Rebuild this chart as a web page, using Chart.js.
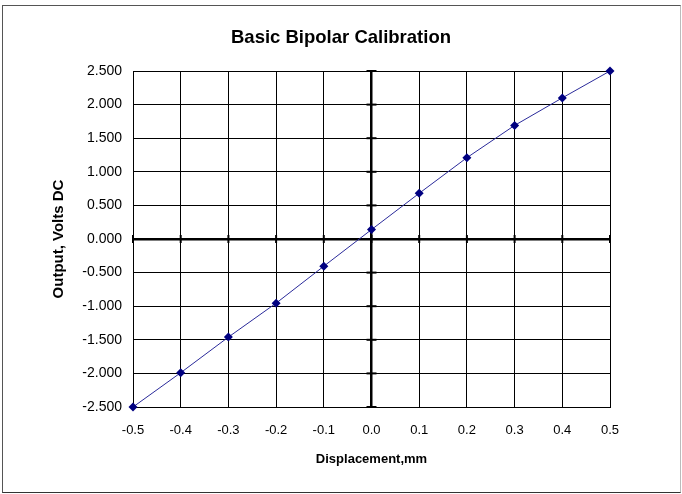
<!DOCTYPE html>
<html>
<head>
<meta charset="utf-8">
<script src="https://cdn.jsdelivr.net/npm/chart.js@4/dist/chart.umd.min.js"></script>
<style>
  body { margin: 0; background: #fff; }
  #wrap { position: relative; width: 682px; height: 494px; }
  #frame { position: absolute; left: 2px; top: 5px; width: 677px; height: 486px;
           border: 1px solid; border-color: #555 #bbb #333 #555; pointer-events: none; }
</style>
</head>
<body>
<div id="wrap">
  <canvas id="calChart" width="682" height="494"></canvas>
  <div id="frame"></div>
</div>
<script>
// DATA
const displacement = [-0.5, -0.4, -0.3, -0.2, -0.1, 0.0, 0.1, 0.2, 0.3, 0.4, 0.5];
const outputVolts = [-2.5, -1.99, -1.46, -0.955, -0.405, 0.14, 0.68, 1.21, 1.69, 2.10, 2.5];
const xRange = [-0.5, 0.5];
const yRange = [-2.5, 2.5];

const FONT = "'Liberation Sans', Arial, sans-serif";

// eixos no zero com marcas cruzadas
const zeroAxes = {
    id: "zeroAxes",
    beforeDatasetsDraw(chart) {
        const { ctx, scales: { x, y } } = chart;
        const x0 = x.getPixelForValue(0);
        const y0 = y.getPixelForValue(0);
        ctx.save();
        ctx.strokeStyle = "#000";
        ctx.lineWidth = 2;
        x.ticks.forEach(t => {
            const px = x.getPixelForValue(t.value);
            ctx.beginPath();
            ctx.moveTo(px, y0 - 4);
            ctx.lineTo(px, y0 + 4);
            ctx.stroke();
        });
        y.ticks.forEach(t => {
            const py = y.getPixelForValue(t.value);
            ctx.beginPath();
            ctx.moveTo(x0 - 5, py);
            ctx.lineTo(x0 + 5, py);
            ctx.stroke();
        });
        ctx.restore();
    }
};

const zeroWidth = c => (Math.abs(c.tick.value) < 1e-9 ? 2.5 : 1);

new Chart(document.getElementById("calChart"), {
    type: "scatter",
    data: {
        datasets: [{
            data: displacement.map((d, i) => ({ x: d, y: outputVolts[i] })),
            showLine: true,
            borderColor: "#2a2a9a",
            borderWidth: 1,
            pointStyle: "rectRot",
            pointRadius: 4.5,
            pointBackgroundColor: "#000080",
            pointBorderColor: "#000080",
            pointBorderWidth: 0,
            clip: false
        }]
    },
    options: {
        responsive: false,
        animation: false,
        layout: { padding: { left: 0, right: 0, top: 0, bottom: 23 } },
        plugins: {
            legend: { display: false },
            tooltip: { enabled: false },
            title: {
                display: true,
                text: "Basic Bipolar Calibration",
                color: "#000",
                font: { family: FONT, size: 18.5, weight: "bold" },
                padding: { top: 27, bottom: 21.8 }
            }
        },
        scales: {
            x: {
                type: "linear",
                min: xRange[0],
                max: xRange[1],
                afterFit: s => { s.height = 64; },
                ticks: {
                    stepSize: 0.1,
                    color: "#000",
                    padding: 16,
                    maxRotation: 0,
                    font: { family: FONT, size: 13 },
                    callback: v => Number(v).toFixed(1)
                },
                grid: { color: "#000", lineWidth: zeroWidth, drawTicks: false },
                border: { color: "#000", width: 1 },
                title: {
                    display: true,
                    text: "Displacement,mm",
                    color: "#000",
                    font: { family: FONT, size: 13, weight: "bold" }
                }
            },
            y: {
                type: "linear",
                min: yRange[0],
                max: yRange[1],
                afterFit: s => { s.width = 133; },
                ticks: {
                    stepSize: 0.5,
                    color: "#000",
                    padding: 11,
                    font: { family: FONT, size: 14 },
                    callback: v => Number(v).toFixed(3)
                },
                grid: { color: "#000", lineWidth: zeroWidth, drawTicks: false },
                border: { color: "#000", width: 1 },
                title: {
                    display: true,
                    text: "Output, Volts DC",
                    color: "#000",
                    padding: { top: 50, bottom: 0 },
                    font: { family: FONT, size: 15, weight: "bold" }
                }
            },
            // espaço vazio à direita, para o título ficar centrado na página
            yRight: {
                type: "linear",
                position: "right",
                afterFit: s => { s.width = 72; },
                ticks: { display: false },
                grid: { display: false },
                border: { display: false }
            }
        }
    },
    plugins: [zeroAxes]
});
</script>
</body>
</html>
